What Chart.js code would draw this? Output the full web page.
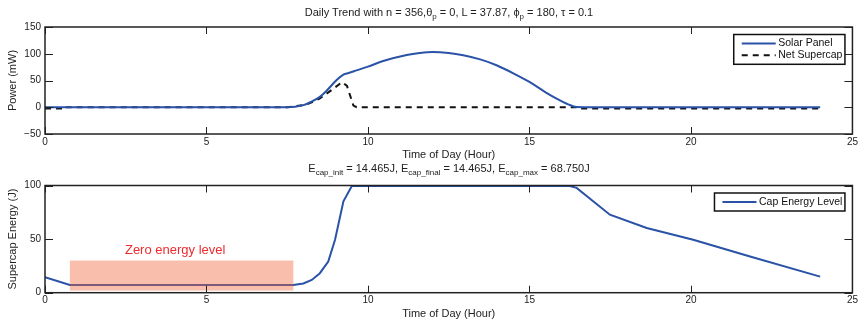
<!DOCTYPE html>
<html>
<head>
<meta charset="utf-8">
<script src="https://cdn.jsdelivr.net/npm/chart.js@4.4.0/dist/chart.umd.min.js"></script>
<style>
    body { margin: 0; background: #fff; width: 860px; height: 323px; overflow: hidden; position: relative;
           font-family: "Liberation Sans", Arial, sans-serif; }
    canvas { position: absolute; left: 0; }
    #power-chart { top: 0; }
    #energy-chart { top: 160px; }
    .plot-title { position: absolute; left: 45px; width: 808px; text-align: center; font-size: 11px;
                  line-height: 14px; color: #222; white-space: nowrap; }
    .plot-title sub { font-size: 8px; line-height: 0; vertical-align: -3px; }
</style>
</head>
<body>
<canvas id="power-chart" width="860" height="160"></canvas>
<canvas id="energy-chart" width="860" height="163"></canvas>
<div class="plot-title" style="top:5px">Daily Trend with n = 356,&theta;<sub>p</sub> = 0, L = 37.87, &#981;<sub>p</sub> = 180, &tau; = 0.1</div>
<div class="plot-title" style="top:161px">E<sub>cap_init</sub> = 14.465J, E<sub>cap_final</sub> = 14.465J, E<sub>cap_max</sub> = 68.750J</div>
<script>
// Solar panel output (mW) by hour of day
const solarHours = [0, 7.5, 8.0, 8.2, 8.5, 8.72, 9.03, 9.24, 9.4, 9.65, 10.0, 10.47, 11.2, 11.6, 12.0,
                    12.5, 12.95, 13.5, 13.98, 14.5, 15.0, 15.5, 15.84, 16.2, 16.46, 17, 24];
const solarPower = [0, 0, 4, 9, 19, 31, 51, 61, 64, 69, 76, 86.5, 97.8, 101.5, 103.4,
                    101.5, 97.2, 89, 78.5, 63.5, 47.3, 28, 16.3, 5.5, 0.4, 0, 0];

// Net supercap power (mW)
const netHours = [0, 0.6, 0.6, 7.5, 8.1, 8.5, 8.87, 9.2, 9.35, 9.55, 9.65, 16.46, 16.5, 24];
const netPower = [-2.5, -2.5, 0, 0, 5, 16, 32, 47, 40, 3, 0, 0, -2.5, -2.5];

// Supercap energy (J)
const capHours = [0, 0.77, 7.69, 8.0, 8.26, 8.51, 8.77, 8.98, 9.24, 9.5, 16.25, 16.46, 17.49, 18.63, 20.07, 21.83, 24];
const capEnergy = [14.5, 7.2, 7.2, 8.6, 11.9, 18.2, 29, 49.4, 85.3, 99.5, 99.5, 97.8, 72.8, 60.3, 49.4, 33.7, 15];

// "Zero energy level" band: hours and energy limits, label anchor
const zeroBandHours = [0.77, 7.69];
const zeroBandEnergy = [2, 30];
const zeroLabel = 'Zero energy level';
const zeroLabelAt = [4.03, 39];

const hourTicks = [0, 5, 10, 15, 20, 25];
const powerTicks = [-50, 0, 50, 100, 150];
const energyTicks = [0, 50, 100];

const FONT = '"Liberation Sans", Arial, sans-serif';
Chart.defaults.font.family = FONT;
Chart.defaults.color = '#222';

const points = (xs, ys) => xs.map((x, i) => ({ x, y: ys[i] }));
const fmt = v => (v < 0 ? '\u2212' + Math.abs(v) : String(v));

// MATLAB-style box with inward ticks on all sides
const frameTicks = {
    id: 'frameTicks',
    afterDraw(chart) {
        const { ctx, chartArea: a, scales } = chart;
        ctx.save();
        ctx.strokeStyle = '#222';
        ctx.lineWidth = 1;
        scales.x.ticks.forEach(t => {
            const px = Math.round(scales.x.getPixelForValue(t.value)) + 0.5;
            ctx.beginPath();
            ctx.moveTo(px, a.bottom); ctx.lineTo(px, a.bottom - 7);
            ctx.moveTo(px, a.top); ctx.lineTo(px, a.top + 7);
            ctx.stroke();
        });
        scales.y.ticks.forEach(t => {
            const py = Math.round(scales.y.getPixelForValue(t.value)) + 0.5;
            ctx.beginPath();
            ctx.moveTo(a.left, py); ctx.lineTo(a.left + 8, py);
            ctx.moveTo(a.right, py); ctx.lineTo(a.right - 8, py);
            ctx.stroke();
        });
        ctx.lineWidth = 1.5;
        ctx.strokeRect(a.left, a.top, a.width, a.height);
        ctx.restore();
    }
};

// Legend in a box, inside top-right corner
const boxLegend = {
    id: 'boxLegend',
    afterDraw(chart) {
        const { ctx, chartArea: a } = chart;
        const sets = chart.data.datasets;
        ctx.save();
        ctx.font = '10.5px ' + FONT;
        const textW = Math.max(...sets.map(d => ctx.measureText(d.label).width));
        const pad = 9, rowH = 11.8;
        const w = 44 + textW + 3;
        const h = pad * 2 + rowH * (sets.length - 1);
        const right = a.right - 7.5;
        const top = a.top + 7.5;
        const left = right - w;
        ctx.fillStyle = '#fff';
        ctx.fillRect(left, top, w, h);
        ctx.strokeStyle = '#111';
        ctx.lineWidth = 1.5;
        ctx.strokeRect(left, top, w, h);
        sets.forEach((d, i) => {
            const y = top + pad + rowH * i;
            ctx.beginPath();
            ctx.setLineDash(d.borderDash || []);
            ctx.strokeStyle = d.borderColor;
            ctx.lineWidth = 2;
            ctx.moveTo(left + 8, y);
            ctx.lineTo(left + 42, y);
            ctx.stroke();
            ctx.setLineDash([]);
            ctx.fillStyle = '#111';
            ctx.textBaseline = 'middle';
            ctx.textAlign = 'left';
            ctx.fillText(d.label, left + 44.5, y);
        });
        ctx.restore();
    }
};

// Shaded band over the flat part of the energy curve
const zeroBand = {
    id: 'zeroBand',
    afterDatasetsDraw(chart) {
        const { ctx, scales: { x, y } } = chart;
        const x0 = x.getPixelForValue(zeroBandHours[0]);
        const x1 = x.getPixelForValue(zeroBandHours[1]);
        const y0 = y.getPixelForValue(zeroBandEnergy[1]);
        const y1 = y.getPixelForValue(zeroBandEnergy[0]);
        ctx.save();
        ctx.fillStyle = 'rgba(242, 100, 60, 0.42)';
        ctx.fillRect(x0, y0, x1 - x0, y1 - y0);
        ctx.fillStyle = '#ee2a2f';
        ctx.font = '13px ' + FONT;
        ctx.textAlign = 'center';
        ctx.textBaseline = 'middle';
        ctx.fillText(zeroLabel, x.getPixelForValue(zeroLabelAt[0]), y.getPixelForValue(zeroLabelAt[1]));
        ctx.restore();
    }
};

function buildScales(yTicks, yTitle, xHeight, xTitlePad) {
    return {
        x: {
            type: 'linear',
            min: hourTicks[0],
            max: hourTicks[hourTicks.length - 1],
            afterBuildTicks: s => { s.ticks = hourTicks.map(v => ({ value: v })); },
            afterFit: s => { s.height = xHeight; },
            grid: { display: false, drawTicks: false },
            border: { display: false },
            ticks: { padding: 2, font: { size: 10 }, callback: fmt, maxRotation: 0 },
            title: {
                display: true, text: 'Time of Day (Hour)',
                font: { size: 11, lineHeight: 1 }, padding: { top: 0, bottom: xTitlePad }
            }
        },
        y: {
            min: yTicks[0],
            max: yTicks[yTicks.length - 1],
            afterBuildTicks: s => { s.ticks = yTicks.map(v => ({ value: v })); },
            afterFit: s => { s.width = 45; },
            grid: { display: false, drawTicks: false },
            border: { display: false },
            ticks: { padding: 4, font: { size: 10 }, callback: fmt },
            title: {
                display: true, text: yTitle,
                font: { size: 11, lineHeight: 1 }, padding: { top: 7.5, bottom: 0 }
            }
        }
    };
}

const commonOptions = {
    responsive: false,
    animation: false,
    devicePixelRatio: 1,
    plugins: { legend: { display: false }, tooltip: { enabled: false }, title: { display: false } },
    elements: { point: { radius: 0 } }
};

new Chart(document.getElementById('power-chart'), {
    type: 'line',
    data: {
        datasets: [
            {
                label: 'Solar Panel',
                data: points(solarHours, solarPower),
                borderColor: '#2a52a6',
                borderWidth: 2,
                cubicInterpolationMode: 'monotone'
            },
            {
                label: 'Net Supercap',
                data: points(netHours, netPower),
                borderColor: '#111',
                borderWidth: 2,
                borderDash: [6, 5],
                tension: 0
            }
        ]
    },
    options: {
        ...commonOptions,
        layout: { padding: { top: 27, right: 7, left: 0, bottom: 0 } },
        scales: buildScales(powerTicks, 'Power (mW)', 26, 0)
    },
    plugins: [frameTicks, boxLegend]
});

new Chart(document.getElementById('energy-chart'), {
    type: 'line',
    data: {
        datasets: [
            {
                label: 'Cap Energy Level',
                data: points(capHours, capEnergy),
                borderColor: '#2a52a6',
                borderWidth: 2,
                tension: 0
            }
        ]
    },
    options: {
        ...commonOptions,
        layout: { padding: { top: 25.5, right: 7, left: 0, bottom: 0 } },
        scales: buildScales(energyTicks, 'Supercap Energy (J)', 30.3, 3.5)
    },
    plugins: [zeroBand, frameTicks, boxLegend]
});
</script>
</body>
</html>
